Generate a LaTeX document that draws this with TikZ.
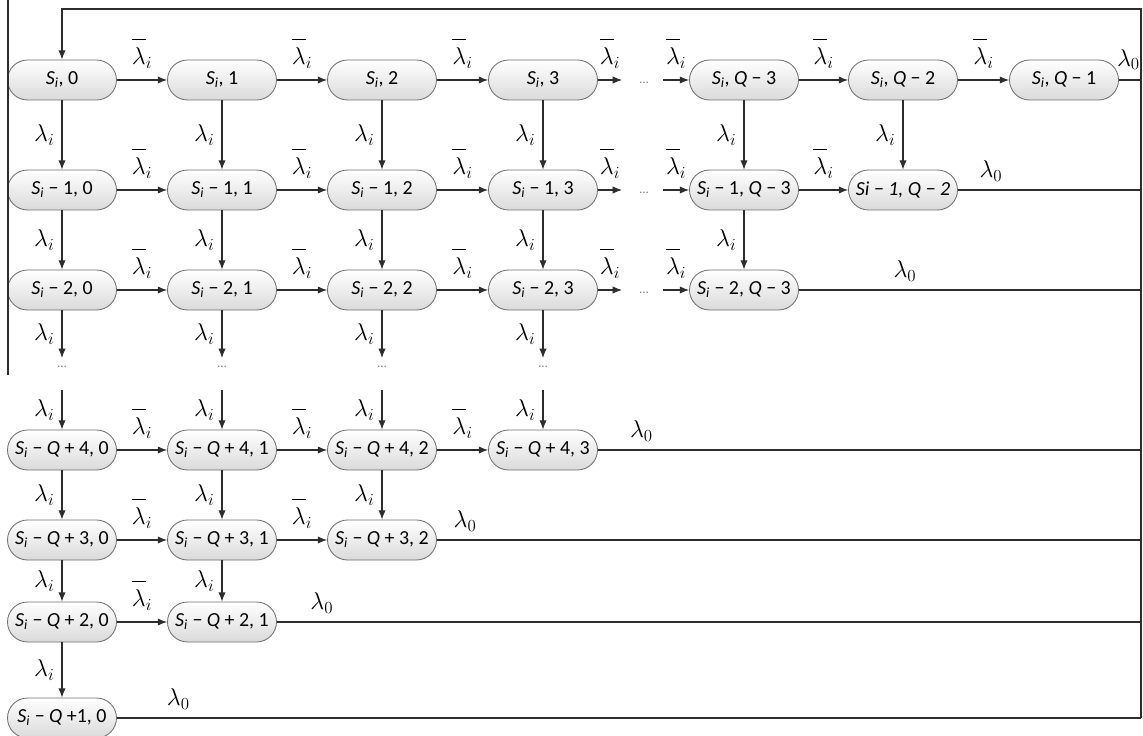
\documentclass[tikz,border=0pt]{standalone}
\usepackage{fontspec}
\setmainfont{Carlito}
\usetikzlibrary{arrows.meta,positioning}
\definecolor{EdgeGray}{RGB}{45,45,45}
\definecolor{BorderGray}{RGB}{110,110,110}
\definecolor{FillGray}{RGB}{218,218,218}
\newcommand{\Si}{\textit{S}\textsubscript{\textit{i}}}
\newcommand{\lami}{$\lambda_i$}
\newcommand{\lambari}{$\overline{\rule{0pt}{1.0em}\lambda}_i$}
\newcommand{\lamz}{$\lambda_0$}
\tikzset{
  state/.style={draw=BorderGray, line width=0.7pt, top color=white, bottom color=FillGray,
    rounded corners=0.6cm, minimum width=3.27cm, minimum height=1.2cm, inner sep=0.5pt,
    font=\fontsize{17}{20}\selectfont},
  trans/.style={-{Latex[length=0.28cm,width=0.22cm]}, line width=0.9pt, EdgeGray},
  plain/.style={line width=0.9pt, EdgeGray},
  lab/.style={font=\fontsize{20}{24}\selectfont, text=black, inner sep=1pt},
  dotsnode/.style={font=\fontsize{11}{13}\selectfont, text=gray, inner sep=0pt}
}

\begin{document}
\begin{tikzpicture}[x=0.03cm, y=-0.03cm]
  \useasboundingbox (0,0) rectangle (1143,736);

  % row S_i
  \node[state] (s00) at (62,80) {\Si, 0};
  \node[state] (s01) at (222,80) {\Si, 1};
  \node[state] (s02) at (382,80) {\Si, 2};
  \node[state] (s03) at (543,80) {\Si, 3};
  \node[state] (s0q3) at (744,80) {\Si, \textit{Q} − 3};
  \node[state] (s0q2) at (903,80) {\Si, \textit{Q} − 2};
  \node[state] (s0q1) at (1064,80) {\Si, \textit{Q} − 1};

  % row S_i - 1
  \node[state] (s10) at (62,190) {\Si{} − 1, 0};
  \node[state] (s11) at (222,190) {\Si{} − 1, 1};
  \node[state] (s12) at (382,190) {\Si{} − 1, 2};
  \node[state] (s13) at (543,190) {\Si{} − 1, 3};
  \node[state] (s1q3) at (744,190) {\Si{} − 1, \textit{Q} − 3};
  \node[state] (s1q2) at (903,190) {\textit{Si − 1, Q − 2}};

  % row S_i - 2
  \node[state] (s20) at (62,290) {\Si{} − 2, 0};
  \node[state] (s21) at (222,290) {\Si{} − 2, 1};
  \node[state] (s22) at (382,290) {\Si{} − 2, 2};
  \node[state] (s23) at (543,290) {\Si{} − 2, 3};
  \node[state] (s2q3) at (744,290) {\Si{} − 2, \textit{Q} − 3};

  % lower rows
  \node[state] (t40) at (62,450) {\Si{} − \textit{Q} + 4, 0};
  \node[state] (t41) at (222,450) {\Si{} − \textit{Q} + 4, 1};
  \node[state] (t42) at (382,450) {\Si{} − \textit{Q} + 4, 2};
  \node[state] (t43) at (543,450) {\Si{} − \textit{Q} + 4, 3};
  \node[state] (t30) at (62,540) {\Si{} − \textit{Q} + 3, 0};
  \node[state] (t31) at (222,540) {\Si{} − \textit{Q} + 3, 1};
  \node[state] (t32) at (382,540) {\Si{} − \textit{Q} + 3, 2};
  \node[state] (t20) at (62,622) {\Si{} − \textit{Q} + 2, 0};
  \node[state] (t21) at (222,622) {\Si{} − \textit{Q} + 2, 1};
  \node[state] (t10) at (62,718) {\Si{} − \textit{Q} +1, 0};

  % gaps with dots
  \foreach \r/\y in {0/80,1/190,2/290}{
    \coordinate (h\r a) at (622,\y);
    \node[dotsnode] (h\r) at (644,\y+3) {…};
    \coordinate (h\r b) at (663,\y);
  }
  \foreach \c/\x in {0/62,1/222,2/382,3/543}{
    \coordinate (v\c a) at (\x,358);
    \node[dotsnode] (v\c) at (\x,367) {…};
    \coordinate (v\c b) at (\x,390);
  }

  % bus on the right and back to the top
  \foreach \r/\y in {0/80,1/190,2/290,3/450,4/540,5/622,6/718}
    \coordinate (r\r) at (1141,\y);
  \coordinate (rt) at (1141,9);
  \coordinate (lt) at (62,9);
  \coordinate (lft) at (8,0);
  \coordinate (lfb) at (8,375);

  % horizontal transitions
  \draw[trans] (s00) -- node[lab, above=0.3cm] {\lambari} (s01);
  \draw[trans] (s01) -- node[lab, above=0.3cm] {\lambari} (s02);
  \draw[trans] (s02) -- node[lab, above=0.3cm] {\lambari} (s03);
  \draw[trans] (s03) -- node[lab, above=0.3cm] {\lambari} (h0a);
  \draw[trans] (h0b) -- node[lab, above=0.3cm] {\lambari} (s0q3);
  \draw[trans] (s0q3) -- node[lab, above=0.3cm] {\lambari} (s0q2);
  \draw[trans] (s0q2) -- node[lab, above=0.3cm] {\lambari} (s0q1);

  \draw[trans] (s10) -- node[lab, above=0.3cm] {\lambari} (s11);
  \draw[trans] (s11) -- node[lab, above=0.3cm] {\lambari} (s12);
  \draw[trans] (s12) -- node[lab, above=0.3cm] {\lambari} (s13);
  \draw[trans] (s13) -- node[lab, above=0.3cm] {\lambari} (h1a);
  \draw[trans] (h1b) -- node[lab, above=0.3cm] {\lambari} (s1q3);
  \draw[trans] (s1q3) -- node[lab, above=0.3cm] {\lambari} (s1q2);

  \draw[trans] (s20) -- node[lab, above=0.3cm] {\lambari} (s21);
  \draw[trans] (s21) -- node[lab, above=0.3cm] {\lambari} (s22);
  \draw[trans] (s22) -- node[lab, above=0.3cm] {\lambari} (s23);
  \draw[trans] (s23) -- node[lab, above=0.3cm] {\lambari} (h2a);
  \draw[trans] (h2b) -- node[lab, above=0.3cm] {\lambari} (s2q3);

  \draw[trans] (t40) -- node[lab, above=0.3cm] {\lambari} (t41);
  \draw[trans] (t41) -- node[lab, above=0.3cm] {\lambari} (t42);
  \draw[trans] (t42) -- node[lab, above=0.3cm] {\lambari} (t43);
  \draw[trans] (t30) -- node[lab, above=0.3cm] {\lambari} (t31);
  \draw[trans] (t31) -- node[lab, above=0.3cm] {\lambari} (t32);
  \draw[trans] (t20) -- node[lab, above=0.3cm] {\lambari} (t21);

  % vertical transitions
  \draw[trans] (s00) -- node[lab, left=0.18cm] {\lami} (s10);
  \draw[trans] (s01) -- node[lab, left=0.18cm] {\lami} (s11);
  \draw[trans] (s02) -- node[lab, left=0.18cm] {\lami} (s12);
  \draw[trans] (s03) -- node[lab, left=0.18cm] {\lami} (s13);
  \draw[trans] (s0q3) -- node[lab, left=0.18cm] {\lami} (s1q3);
  \draw[trans] (s0q2) -- node[lab, left=0.18cm] {\lami} (s1q2);

  \draw[trans] (s10) -- node[lab, left=0.18cm] {\lami} (s20);
  \draw[trans] (s11) -- node[lab, left=0.18cm] {\lami} (s21);
  \draw[trans] (s12) -- node[lab, left=0.18cm] {\lami} (s22);
  \draw[trans] (s13) -- node[lab, left=0.18cm] {\lami} (s23);
  \draw[trans] (s1q3) -- node[lab, left=0.18cm] {\lami} (s2q3);

  \draw[trans] (s20) -- node[lab, left=0.18cm] {\lami} (v0a);
  \draw[trans] (s21) -- node[lab, left=0.18cm] {\lami} (v1a);
  \draw[trans] (s22) -- node[lab, left=0.18cm] {\lami} (v2a);
  \draw[trans] (s23) -- node[lab, left=0.18cm] {\lami} (v3a);
  \draw[trans] (v0b) -- node[lab, left=0.18cm] {\lami} (t40);
  \draw[trans] (v1b) -- node[lab, left=0.18cm] {\lami} (t41);
  \draw[trans] (v2b) -- node[lab, left=0.18cm] {\lami} (t42);
  \draw[trans] (v3b) -- node[lab, left=0.18cm] {\lami} (t43);

  \draw[trans] (t40) -- node[lab, left=0.18cm] {\lami} (t30);
  \draw[trans] (t41) -- node[lab, left=0.18cm] {\lami} (t31);
  \draw[trans] (t42) -- node[lab, left=0.18cm] {\lami} (t32);
  \draw[trans] (t30) -- node[lab, left=0.18cm] {\lami} (t20);
  \draw[trans] (t31) -- node[lab, left=0.18cm] {\lami} (t21);
  \draw[trans] (t20) -- node[lab, left=0.18cm] {\lami} (t10);

  % lambda_0 lines into the bus
  \draw[plain] (s0q1) -- node[lab, above=0.25cm, pos=0.43] {\lamz} (r0);
  \draw[plain] (s1q2) -- node[lab, above=0.2cm, pos=0.18] {\lamz} (r1);
  \draw[plain] (s2q3) -- node[lab, above=0.2cm, pos=0.31] {\lamz} (r2);
  \draw[plain] (t43) -- node[lab, above=0.2cm, pos=0.08] {\lamz} (r3);
  \draw[plain] (t32) -- node[lab, above=0.2cm, pos=0.04] {\lamz} (r4);
  \draw[plain] (t21) -- node[lab, above=0.2cm, pos=0.052] {\lamz} (r5);
  \draw[plain] (t10) -- node[lab, above=0.2cm, pos=0.06] {\lamz} (r6);
  \draw[trans] (r6) -- (rt) -- (lt) -- (s00);
  \draw[plain] (lft) -- (lfb);
\end{tikzpicture}
\end{document}
